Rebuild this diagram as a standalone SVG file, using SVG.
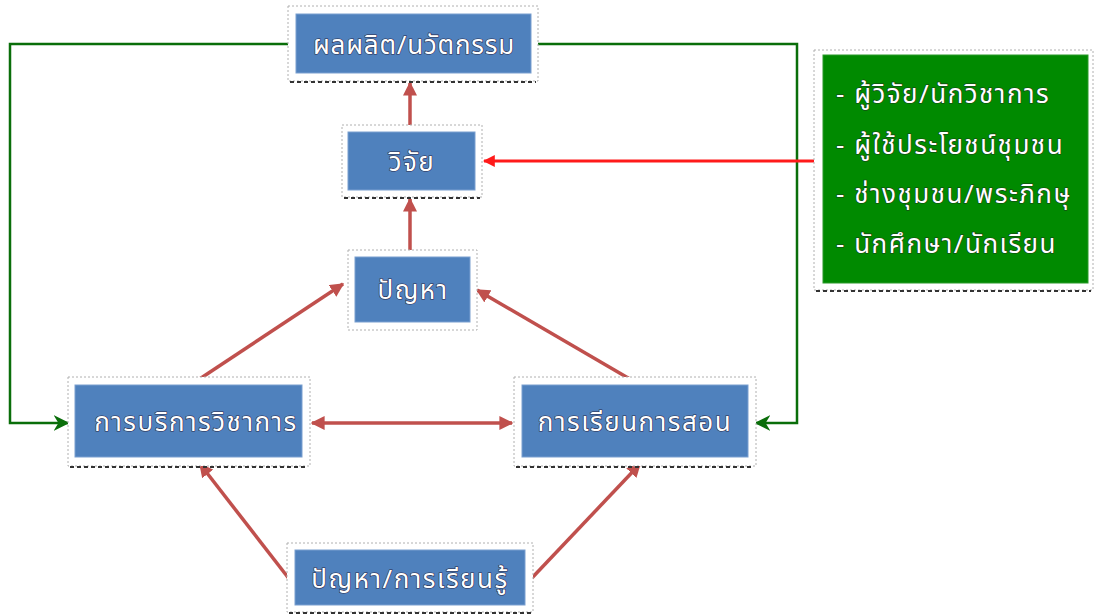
<svg xmlns="http://www.w3.org/2000/svg" width="1097" height="616" viewBox="0 0 1097 616">
<defs>
<style>
.frame{fill:#ffffff;stroke:#b0b0b0;stroke-width:1;stroke-dasharray:2 2}
.sh{stroke:#333333;stroke-width:2;stroke-dasharray:4 3;fill:none}
.box{fill:#4f81bd;stroke:#7a9fd0;stroke-width:1}
.gbox{fill:#008a00;stroke:#2a9a2a;stroke-width:1}
.t{font-family:"Noto Sans Thai","Noto Sans","DejaVu Sans",sans-serif;font-size:26px;letter-spacing:1.5px;fill:#ffffff;text-anchor:middle;paint-order:stroke;stroke:#2a2a4a;stroke-width:1.2px}
.tl{font-family:"Noto Sans Thai","Noto Sans","DejaVu Sans",sans-serif;font-size:26px;letter-spacing:1.5px;fill:#ffffff;paint-order:stroke;stroke:#1a3a1a;stroke-width:1.2px}
.br{stroke:#c0504d;stroke-width:3.5;fill:none}
.gr{stroke:#0a6e0a;stroke-width:2.5;fill:none}
.rd{stroke:#ff1a1a;stroke-width:3;fill:none}
</style>
<marker id="ab" viewBox="0 0 10 10" refX="9" refY="5" markerWidth="4" markerHeight="4" orient="auto-start-reverse"><path d="M0,0 L10,5 L0,10 z" fill="#c0504d"/></marker>
<marker id="ag" viewBox="0 0 10 10" refX="9" refY="5" markerWidth="16" markerHeight="16" orient="auto" markerUnits="userSpaceOnUse"><path d="M0,0 L10,5 L0,10 L3,5 z" fill="#0a6e0a"/></marker>
<marker id="ar" viewBox="0 0 10 10" refX="9" refY="5" markerWidth="4" markerHeight="4" orient="auto"><path d="M0,0 L10,5 L0,10 z" fill="#ff1a1a"/></marker>
</defs>
<g id="connectors">
<polyline class="gr" points="288,44 10,44 10,423 68,423" marker-end="url(#ag)"/>
<polyline class="gr" points="538,44 797,44 797,423 756,423" marker-end="url(#ag)"/>
<line class="rd" x1="814" y1="161" x2="484" y2="161" marker-end="url(#ar)"/>
<line class="br" x1="410" y1="125" x2="410" y2="83" marker-end="url(#ab)"/>
<line class="br" x1="410" y1="250" x2="410" y2="199" marker-end="url(#ab)"/>
<line class="br" x1="195" y1="382" x2="343" y2="284" marker-end="url(#ab)"/>
<line class="br" x1="635" y1="382" x2="477" y2="290" marker-end="url(#ab)"/>
<line class="br" x1="312" y1="423" x2="512" y2="423" marker-start="url(#ab)" marker-end="url(#ab)"/>
<line class="br" x1="290" y1="580" x2="200" y2="464" marker-end="url(#ab)"/>
<line class="br" x1="530" y1="580" x2="640" y2="464" marker-end="url(#ab)"/>
</g>
<g id="n1"><rect class="frame" x="288" y="6" width="250" height="75"/><line class="sh" x1="290" y1="82" x2="536" y2="82"/><rect class="box" x="296" y="14" width="235" height="59"/><text class="t" x="414" y="54" style="letter-spacing:0.8px">ผลผลิต/นวัตกรรม</text></g>
<g id="n2"><rect class="frame" x="342" y="125" width="140" height="72"/><line class="sh" x1="344" y1="198" x2="480" y2="198"/><rect class="box" x="348" y="132" width="127" height="58"/><text class="t" x="412" y="171">วิจัย</text></g>
<g id="n3"><rect class="frame" x="348" y="250" width="129" height="80"/><rect class="box" x="355" y="257" width="115" height="65"/><text class="t" x="413" y="299">ปัญหา</text></g>
<g id="n4"><rect class="frame" x="68" y="377" width="242" height="89"/><line class="sh" x1="70" y1="467" x2="308" y2="467"/><rect class="box" x="75" y="385" width="227" height="72"/><text class="t" x="196" y="431">การบริการวิชาการ</text></g>
<g id="n5"><rect class="frame" x="514" y="377" width="242" height="89"/><line class="sh" x1="516" y1="467" x2="754" y2="467"/><rect class="box" x="522" y="385" width="226" height="72"/><text class="t" x="635" y="431">การเรียนการสอน</text></g>
<g id="n6"><rect class="frame" x="287" y="543" width="246" height="69"/><line class="sh" x1="289" y1="613" x2="531" y2="613"/><rect class="box" x="295" y="550" width="230" height="55"/><text class="t" x="410" y="588">ปัญหา/การเรียนรู้</text></g>
<g id="n7"><rect class="frame" x="814" y="50" width="279" height="240"/><line class="sh" x1="816" y1="291" x2="1091" y2="291"/><rect class="gbox" x="823" y="55" width="265" height="228"/>
<text class="tl" x="836" y="103">- ผู้วิจัย/นักวิชาการ</text>
<text class="tl" x="836" y="154">- ผู้ใช้ประโยชน์ชุมชน</text>
<text class="tl" x="836" y="203">- ช่างชุมชน/พระภิกษุ</text>
<text class="tl" x="836" y="253">- นักศึกษา/นักเรียน</text>
</g>
</svg>
